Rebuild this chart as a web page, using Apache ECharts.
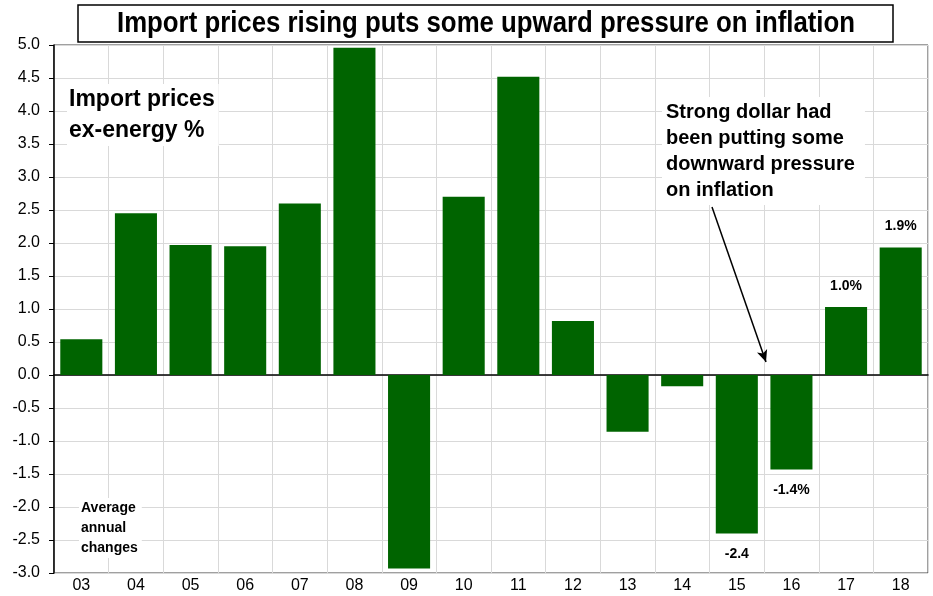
<!DOCTYPE html>
<html><head><meta charset="utf-8">
<script src="https://cdn.jsdelivr.net/npm/echarts@6/dist/echarts.min.js"></script>
<style>html,body{margin:0;padding:0;background:#fff}#c{width:933px;height:596px}</style>
</head><body><div id="c"></div>
<script>
const categories = ['03','04','05','06','07','08','09','10','11','12','13','14','15','16','17','18'];
const values = [0.54, 2.45, 1.97, 1.95, 2.60, 4.96, -2.93, 2.70, 4.52, 0.82, -0.86, -0.17, -2.40, -1.43, 1.03, 1.93];
const valueLabels = {'15':'-2.4','16':'-1.4%','17':'1.0%','18':'1.9%'};
const yTicks = {min:-3, max:5, interval:0.5};
const titleText = 'Import prices rising puts some upward pressure on inflation';

const titleFont = 'bold 30px "Liberation Sans"';
const cv = document.createElement('canvas').getContext('2d');
cv.font = titleFont;
const titleScale = 738 / cv.measureText(titleText).width;

const chart = echarts.init(document.getElementById('c'));
const data = values.map((v,i)=>{
  const lab = valueLabels[categories[i]];
  return {value:v, label: lab ? {show:true, formatter:lab, position: v>=0?'top':'bottom', distance: 14, fontSize:14, fontWeight:'bold', color:'#000', fontFamily:'Liberation Sans'} : {show:false}};
});
chart.setOption({
  animation:false,
  grid:{left:54, right:5, top:45, bottom:23, show:true, borderColor:'#404040', borderWidth:1},
  xAxis:{type:'category', data:categories,
    axisLine:{lineStyle:{color:'#000', width:1.5}}, axisTick:{show:false},
    axisLabel:{fontSize:16, color:'#000', fontFamily:'Liberation Sans', margin:5},
    splitLine:{show:true, interval:0, lineStyle:{color:'#d9d9d9'}}},
  yAxis:{type:'value', min:yTicks.min, max:yTicks.max, interval:yTicks.interval,
    axisLine:{show:true, lineStyle:{color:'#000', width:1.5}}, axisTick:{show:true, length:5, lineStyle:{color:'#000'}},
    axisLabel:{fontSize:16, color:'#000', fontFamily:'Liberation Sans', margin:14, formatter:v=>v.toFixed(1)},
    splitLine:{lineStyle:{color:'#d9d9d9'}}},
  series:[{type:'bar', data:data, barWidth:'77%', itemStyle:{color:'#006400'},
    markLine:{silent:true, symbol:['none','arrow'], symbolSize:[8,12], label:{show:false},
      lineStyle:{color:'#000', width:1.5, type:'solid'},
      data:[[{x:712, y:207},{x:766, y:362}]]}}],
  graphic:[
    {type:'rect', shape:{x:78, y:5, width:815, height:37}, style:{fill:'#fff', stroke:'#000', lineWidth:1.5}, z:10},
    {type:'text', x:486, y:24, scaleX:titleScale, z:11, style:{text:titleText, font:titleFont, fill:'#000', align:'center', verticalAlign:'middle'}},
    {type:'text', x:67, y:84, z:11, style:{text:'Import prices\nex-energy %', fontSize:23, lineHeight:31, fontWeight:'bold', fontFamily:'Liberation Sans', fill:'#000', backgroundColor:'#fff', padding:[0,4,0,2]}},
    {type:'text', x:662, y:97, z:11, style:{text:'Strong dollar had\nbeen putting some\ndownward pressure\non inflation', fontSize:20, lineHeight:26, fontWeight:'bold', fontFamily:'Liberation Sans', fill:'#000', backgroundColor:'#fff', padding:[2,10,2,4]}},
    {type:'text', x:79, y:498, z:11, style:{text:'Average\nannual\nchanges', fontSize:14, lineHeight:20, fontWeight:'bold', fontFamily:'Liberation Sans', fill:'#000', backgroundColor:'#fff', padding:[0,4,0,2]}}
  ]
});
</script></body></html>
